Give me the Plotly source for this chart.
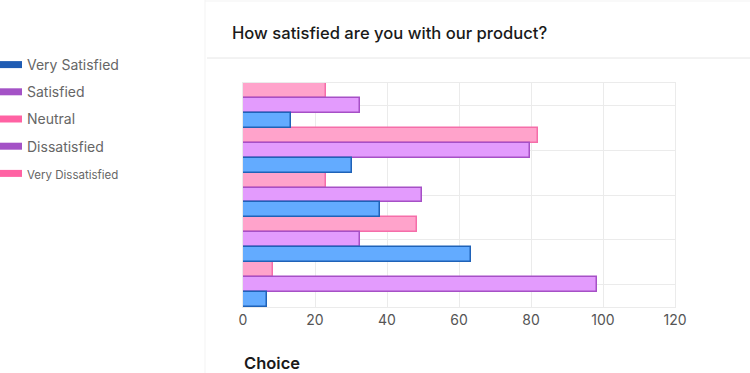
import plotly.graph_objects as go

# ---- data ----
categories = ["Very Satisfied", "Satisfied", "Neutral", "Dissatisfied", "Very Dissatisfied"]
series_names = ["Series C", "Series B", "Series A"]
pink_values = [23.0, 82.0, 23.0, 48.2, 8.3]
purple_values = [32.4, 79.8, 49.8, 32.4, 98.3]
blue_values = [13.2, 30.4, 38.0, 63.2, 6.7]
legend_labels = ["Very Satisfied", "Satisfied", "Neutral", "Dissatisfied", "Very Dissatisfied"]
legend_colors = ["#1f5cb3", "#a452c6", "#ff62a3", "#a452c6", "#ff62a3"]
x_ticks = [0, 20, 40, 60, 80, 100, 120]

W, H = 750, 373
ML, MR, MT, MB = 243, 75, 83, 66
PW = W - ML - MR
PH = H - MT - MB

def px_x(p):
    return (p - ML) / PW

def px_y(p):
    return (H - MB - p) / PH

fig = go.Figure()

bar_styles = [
    (pink_values, "#ffa3cb", "#f56ea9"),
    (purple_values, "#e39bfd", "#a650c6"),
    (blue_values, "#63abff", "#1f62b8"),
]
for name, (vals, fill, line) in zip(series_names, bar_styles):
    fig.add_trace(go.Bar(
        y=categories, x=vals, orientation="h", name=name,
        marker=dict(color=fill, line=dict(color=line, width=1.5)),
        showlegend=False,
    ))

for i, (lab, col) in enumerate(zip(legend_labels, legend_colors)):
    text = lab if i < 4 else "<span style='font-size:11.5px'>" + lab + "</span>"
    fig.add_trace(go.Scatter(
        x=[None], y=[None], mode="lines", name=text,
        line=dict(color=col, width=7), legendgroup="g%d" % i,
        xaxis="x2", yaxis="y2",
    ))

fig.update_layout(
    width=W, height=H,
    margin=dict(l=ML, r=MR, t=MT, b=MB, pad=0, autoexpand=False),
    paper_bgcolor="white", plot_bgcolor="white",
    font=dict(family="Inter, Lato, sans-serif", color="#555"),
    barmode="group", bargap=0, bargroupgap=0,
    xaxis=dict(range=[0, 120], tickvals=x_ticks, showgrid=True, gridcolor="#ebebeb",
               gridwidth=1, zeroline=False, showline=True, linecolor="#ebebeb", linewidth=1,
               mirror=True, ticks="", tickfont=dict(size=14, color="#555"), fixedrange=True),
    yaxis=dict(autorange="reversed", showticklabels=False, showgrid=True, gridcolor="#ebebeb",
               ticks="", showline=True, linecolor="#ebebeb", mirror=True, zeroline=False),
    xaxis2=dict(visible=False, overlaying="x", range=[0, 1]),
    yaxis2=dict(visible=False, overlaying="y", range=[0, 1]),
    showlegend=True,
    legend=dict(x=px_x(-13), y=px_y(49), xanchor="left", yanchor="top",
                font=dict(size=14, color="#666"), traceorder="grouped",
                tracegroupgap=6, bgcolor="rgba(0,0,0,0)", itemclick=False),
    annotations=[
        dict(text="How satisfied are you with our product?", xref="paper", yref="paper",
             x=px_x(230), y=px_y(33), xanchor="left", yanchor="middle", showarrow=False,
             font=dict(size=16.6, color="#1a1a1a", weight=500)),
        dict(text="Choice", xref="paper", yref="paper",
             x=px_x(242), y=px_y(362.5), xanchor="left", yanchor="middle", showarrow=False,
             font=dict(size=16.5, color="#1a1a1a", weight=600)),
    ],
    shapes=[
        dict(type="line", xref="paper", yref="paper", x0=px_x(205), x1=px_x(205),
             y0=px_y(0), y1=px_y(H), line=dict(color="#f3f3f3", width=1)),
        dict(type="line", xref="paper", yref="paper", x0=px_x(205), x1=px_x(W),
             y0=px_y(1), y1=px_y(1), line=dict(color="#f3f3f3", width=1)),
        dict(type="line", xref="paper", yref="paper", x0=px_x(207), x1=px_x(W),
             y0=px_y(58), y1=px_y(58), line=dict(color="#e6e6e6", width=1)),
    ],
)

fig.write_html("out.html", config={"displayModeBar": False},
               post_script="document.body.style.margin='0';")
